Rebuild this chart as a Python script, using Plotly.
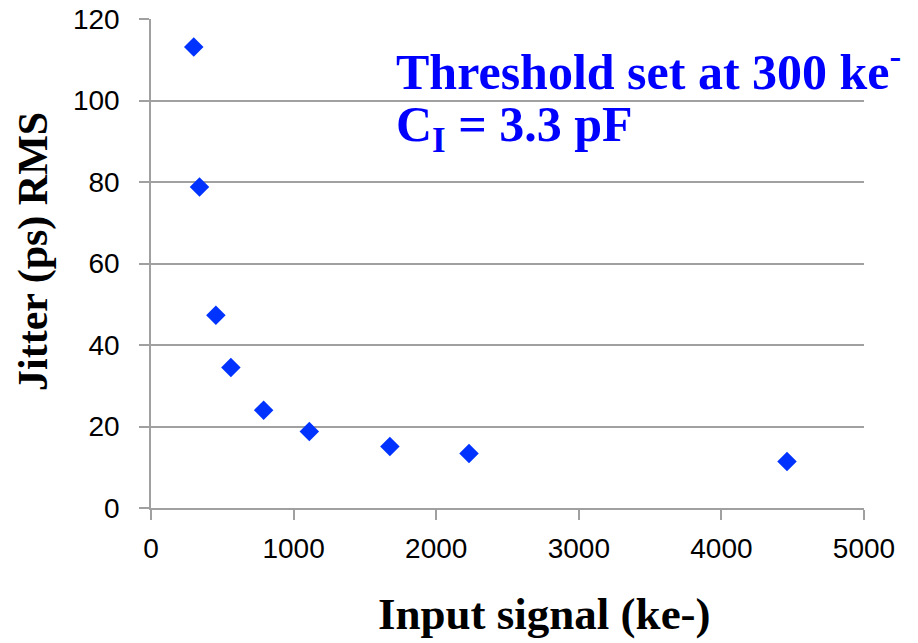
import plotly.graph_objects as go

input_signal = [300, 340, 455, 560, 790, 1110, 1675, 2230, 4460]
jitter_rms = [113.1, 78.8, 47.3, 34.5, 24.0, 18.8, 15.1, 13.4, 11.4]
x_ticks = [0, 1000, 2000, 3000, 4000, 5000]
y_ticks = [0, 20, 40, 60, 80, 100, 120]

W, H = 918, 643
L, R, T, B = 151, 54, 19, 135
pw, ph = W - L - R, H - T - B

def px(xp):
    return (xp - L) / pw

def py(yp):
    return (H - B - yp) / ph

grid = "#A0A0A0"
fig = go.Figure()
fig.add_trace(go.Scatter(
    x=input_signal, y=jitter_rms, mode="markers",
    marker=dict(symbol="diamond", size=15, color="#0033FF", line=dict(width=0)),
    showlegend=False, cliponaxis=False,
))

fig.update_layout(
    template="none",
    width=W, height=H,
    margin=dict(l=L, r=R, t=T, b=B, pad=0, autoexpand=False),
    paper_bgcolor="white", plot_bgcolor="white",
    xaxis=dict(range=[0, 5000], tickvals=x_ticks, showgrid=False, zeroline=False, automargin=False,
               showline=True, linecolor=grid, linewidth=1.5,
               ticks="outside", ticklen=10, tickcolor=grid, tickwidth=1.5, ticklabelstandoff=5,
               tickfont=dict(family="Liberation Sans", size=28, color="black")),
    yaxis=dict(range=[0, 120], tickvals=y_ticks, showgrid=True, gridcolor=grid, gridwidth=1.5,
               zeroline=False, showline=True, linecolor=grid, linewidth=1.5, automargin=False,
               ticks="outside", ticklen=10, tickcolor=grid, tickwidth=1.5, ticklabelstandoff=14,
               tickfont=dict(family="Liberation Sans", size=28, color="black")),
    annotations=[
        dict(xref="paper", yref="paper", x=px(544), y=py(614), xanchor="center", yanchor="middle",
             text="<b>Input signal (ke-)</b>", showarrow=False,
             font=dict(family="Liberation Serif", size=45, color="black")),
        dict(xref="paper", yref="paper", x=px(34), y=py(252), xanchor="center", yanchor="middle",
             text="<b>Jitter (ps) RMS</b>", textangle=-90, showarrow=False,
             font=dict(family="Liberation Serif", size=42, color="black")),
        dict(xref="paper", yref="paper", x=px(394), y=py(68), xanchor="left", yanchor="middle",
             text="<b>Threshold set at 300 ke<sup>-</sup></b>", showarrow=False,
             font=dict(family="Liberation Serif", size=50, color="#0000FF")),
        dict(xref="paper", yref="paper", x=px(394), y=py(128), xanchor="left", yanchor="middle",
             text="<b>C<sub>I</sub> = 3.3 pF</b>", showarrow=False,
             font=dict(family="Liberation Serif", size=50, color="#0000FF")),
    ],
)

html = fig.to_html(full_html=True, include_plotlyjs=True, config={"displayModeBar": False})
html = html.replace("<head>", "<head><style>html,body{margin:0;padding:0;overflow:hidden;}</style>", 1)
with open("out.html", "w", encoding="utf-8") as f:
    f.write(html)
